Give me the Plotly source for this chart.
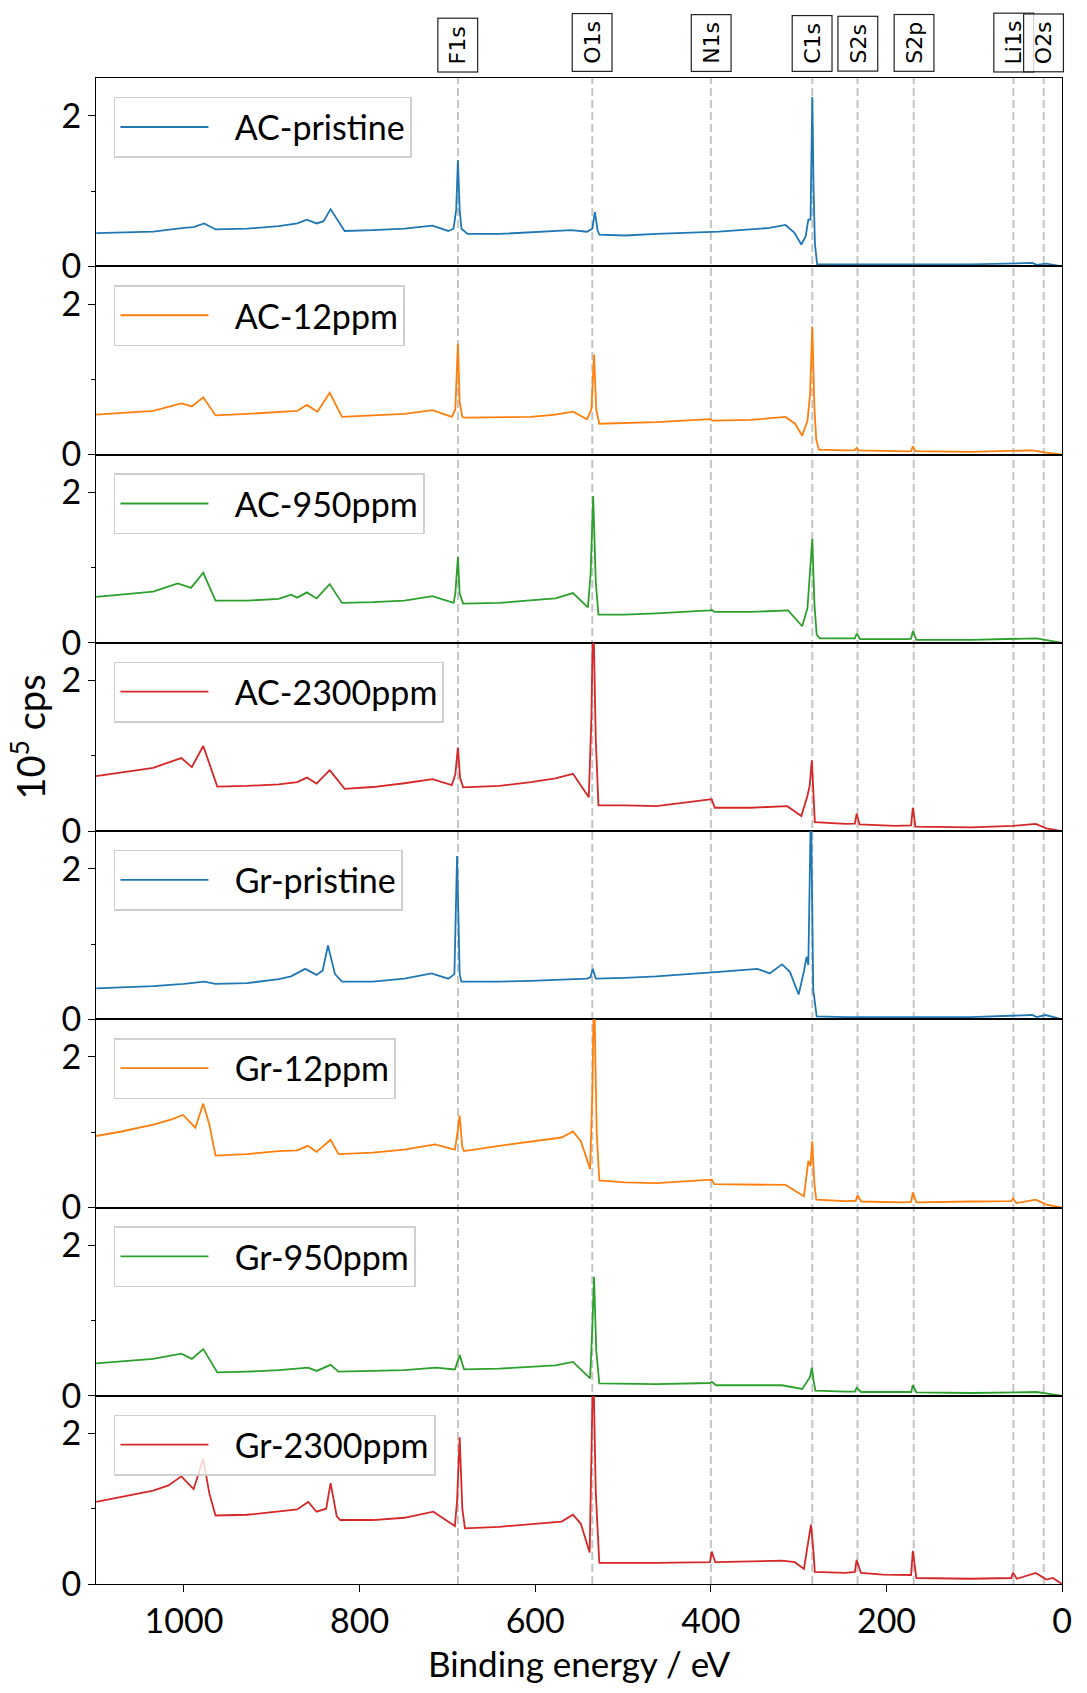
import plotly.graph_objects as go

# ---------------- data ----------------
NAMES = ["AC-pristine", "AC-12ppm", "AC-950ppm", "AC-2300ppm",
         "Gr-pristine", "Gr-12ppm", "Gr-950ppm", "Gr-2300ppm"]
COLORS = ["#1f77b4", "#ff7f0e", "#2ca02c", "#d62728",
          "#1f77b4", "#ff7f0e", "#2ca02c", "#d62728"]

BE_AC_PRISTINE = [1100, 1035, 1000, 989, 977, 964, 928, 892, 871, 860, 849, 841, 833, 817, 785, 749, 717, 699, 693, 690, 688, 686, 684, 677, 641, 605, 559, 541, 535, 532, 529, 527, 498, 462, 391, 333, 315, 305, 297, 292, 289, 286.5, 284.5, 283, 281.5, 279, 247, 176, 104, 34, 29, 18, 0]
CPS_AC_PRISTINE = [0.44, 0.46, 0.51, 0.52, 0.57, 0.49, 0.50, 0.535, 0.57, 0.62, 0.57, 0.60, 0.76, 0.47, 0.48, 0.50, 0.54, 0.47, 0.50, 0.75, 1.41, 0.75, 0.50, 0.43, 0.43, 0.45, 0.48, 0.46, 0.50, 0.72, 0.48, 0.42, 0.41, 0.43, 0.46, 0.51, 0.55, 0.45, 0.29, 0.40, 0.62, 0.62, 2.25, 1.00, 0.30, 0.03, 0.026, 0.026, 0.026, 0.045, 0.02, 0.035, 0.0]

BE_AC_12 = [1100, 1035, 1003, 991, 978, 964, 928, 892, 871, 860, 848, 834, 820, 785, 749, 717, 695, 691, 688, 686, 683, 681, 641, 605, 577, 557, 541, 536, 533, 530.5, 527, 498, 462, 401, 398, 355, 315, 304, 296, 290, 287, 284.5, 282, 280, 277, 247, 236, 234, 231.5, 176, 172, 170, 167, 104, 34, 18, 0]
CPS_AC_12 = [0.53, 0.58, 0.68, 0.64, 0.76, 0.52, 0.54, 0.57, 0.58, 0.66, 0.57, 0.82, 0.50, 0.52, 0.54, 0.59, 0.50, 0.60, 1.47, 0.70, 0.50, 0.49, 0.49, 0.50, 0.53, 0.57, 0.47, 0.60, 1.33, 0.60, 0.41, 0.42, 0.43, 0.47, 0.45, 0.46, 0.50, 0.41, 0.25, 0.45, 0.80, 1.70, 0.60, 0.20, 0.066, 0.057, 0.06, 0.088, 0.055, 0.044, 0.045, 0.11, 0.045, 0.035, 0.057, 0.026, 0.0]

BE_AC_950 = [1100, 1035, 1007, 992, 978, 964, 928, 892, 878, 871, 860, 849, 834, 820, 785, 749, 717, 693, 691, 688, 686, 682, 641, 605, 577, 557, 540, 537, 534, 531, 528, 498, 462, 401, 399, 396, 355, 312, 296, 290, 287, 284.5, 282, 279.5, 276, 247, 236, 234, 230, 176, 172, 170, 166, 104, 56, 29, 0]
CPS_AC_950 = [0.61, 0.68, 0.79, 0.73, 0.93, 0.56, 0.56, 0.585, 0.64, 0.60, 0.67, 0.59, 0.78, 0.53, 0.54, 0.56, 0.62, 0.53, 0.65, 1.14, 0.65, 0.52, 0.53, 0.56, 0.59, 0.66, 0.47, 0.90, 1.95, 0.80, 0.375, 0.375, 0.39, 0.43, 0.44, 0.41, 0.41, 0.43, 0.22, 0.46, 0.90, 1.38, 0.50, 0.11, 0.06, 0.06, 0.06, 0.12, 0.05, 0.05, 0.055, 0.156, 0.04, 0.04, 0.05, 0.06, 0.0]

BE_AC_2300 = [1100, 1035, 1003, 991, 978, 962, 928, 892, 871, 860, 849, 834, 817, 785, 749, 717, 695, 691, 688, 685.5, 682, 641, 605, 577, 557, 539, 536, 534, 531, 528, 498, 462, 401, 399, 395.5, 355, 313, 297, 290, 287.5, 285, 283.5, 281.6, 247, 236, 234, 230.7, 190, 172, 170, 167, 104, 56, 30, 18, 0]
CPS_AC_2300 = [0.73, 0.84, 0.97, 0.85, 1.13, 0.59, 0.60, 0.62, 0.65, 0.71, 0.63, 0.81, 0.56, 0.585, 0.635, 0.69, 0.61, 0.75, 1.11, 0.70, 0.58, 0.60, 0.65, 0.70, 0.76, 0.45, 1.50, 3.00, 1.20, 0.34, 0.34, 0.33, 0.42, 0.42, 0.31, 0.31, 0.33, 0.20, 0.47, 0.60, 0.94, 0.60, 0.12, 0.095, 0.10, 0.23, 0.09, 0.07, 0.075, 0.31, 0.06, 0.05, 0.07, 0.095, 0.035, 0.0]

BE_GR_PRISTINE = [1100, 1035, 1000, 977, 964, 928, 892, 878, 862, 849, 842, 836, 828, 820, 785, 749, 718, 699, 692, 689, 686, 684, 641, 605, 541, 537, 534.5, 531, 498, 462, 391, 347, 333, 319, 310, 300, 294, 291, 289, 286, 283.5, 279.5, 247, 104, 34, 29, 19, 0]
CPS_GR_PRISTINE = [0.41, 0.44, 0.47, 0.50, 0.47, 0.48, 0.535, 0.57, 0.67, 0.59, 0.65, 0.98, 0.60, 0.50, 0.50, 0.54, 0.61, 0.54, 0.60, 2.17, 0.60, 0.50, 0.50, 0.51, 0.54, 0.56, 0.67, 0.54, 0.55, 0.57, 0.63, 0.67, 0.61, 0.73, 0.63, 0.33, 0.64, 0.83, 0.72, 2.90, 0.40, 0.04, 0.03, 0.03, 0.057, 0.03, 0.057, 0.0]

BE_GR_12 = [1100, 1071, 1035, 1014, 1001, 987, 978, 971, 964, 928, 892, 871, 859, 849, 833, 824, 785, 749, 714, 691.5, 689, 686, 683, 681, 641, 605, 570, 557, 548, 537.5, 535, 533, 530, 527, 498, 462, 401, 399, 396, 355, 315, 294, 289, 286.6, 284.5, 282, 280, 247, 235, 233, 228.6, 183, 172, 170, 166, 104, 58, 56, 52, 30, 18, 0]
CPS_GR_12 = [0.95, 1.01, 1.10, 1.17, 1.23, 1.06, 1.38, 1.10, 0.69, 0.71, 0.75, 0.76, 0.82, 0.74, 0.90, 0.71, 0.73, 0.77, 0.84, 0.77, 0.95, 1.22, 0.80, 0.75, 0.82, 0.88, 0.93, 1.01, 0.88, 0.51, 1.50, 3.00, 1.00, 0.36, 0.335, 0.325, 0.37, 0.37, 0.31, 0.30, 0.30, 0.15, 0.62, 0.55, 0.88, 0.30, 0.106, 0.085, 0.09, 0.16, 0.08, 0.07, 0.075, 0.20, 0.07, 0.08, 0.085, 0.12, 0.06, 0.106, 0.04, 0.0]

BE_GR_950 = [1100, 1035, 1003, 991, 978, 962, 928, 892, 858.5, 849, 833, 824, 785, 749, 713, 691.5, 686, 681, 641, 605, 577, 557, 537.5, 535, 533, 530.5, 527, 462, 408.5, 401, 399, 394, 319, 296, 287, 285, 283, 281, 247, 236, 234, 229, 176, 172, 170, 166, 104, 56, 29, 0]
CPS_GR_950 = [0.43, 0.49, 0.56, 0.49, 0.62, 0.31, 0.32, 0.34, 0.375, 0.33, 0.41, 0.32, 0.33, 0.34, 0.375, 0.35, 0.54, 0.35, 0.36, 0.39, 0.405, 0.45, 0.23, 0.90, 1.58, 0.60, 0.165, 0.155, 0.17, 0.17, 0.185, 0.14, 0.14, 0.09, 0.25, 0.375, 0.20, 0.068, 0.054, 0.055, 0.107, 0.05, 0.05, 0.05, 0.14, 0.045, 0.037, 0.05, 0.05, 0.0]

BE_GR_2300 = [1100, 1071, 1035, 1017.6, 1003, 989, 978, 971, 964, 928, 892, 871, 858.5, 849, 838, 833, 826, 822, 785, 749, 716, 691.5, 689, 686, 683, 680, 641, 605, 570, 557, 548, 538, 536, 534, 531, 527, 462, 401, 399, 395, 319, 304.5, 294, 290, 286, 283, 281.6, 247, 238.6, 236, 234, 229, 204, 186, 172, 170, 166, 104, 58, 56, 51.6, 30, 18, 10.7, 0]
CPS_GR_2300 = [1.09, 1.16, 1.24, 1.31, 1.43, 1.26, 1.66, 1.20, 0.91, 0.92, 0.97, 0.99, 1.09, 0.96, 1.00, 1.34, 0.90, 0.85, 0.85, 0.88, 0.96, 0.77, 1.10, 1.95, 1.00, 0.74, 0.76, 0.80, 0.83, 0.92, 0.80, 0.42, 1.50, 3.00, 1.20, 0.28, 0.28, 0.29, 0.43, 0.29, 0.31, 0.29, 0.20, 0.51, 0.79, 0.40, 0.16, 0.147, 0.15, 0.16, 0.32, 0.147, 0.125, 0.12, 0.12, 0.44, 0.08, 0.07, 0.08, 0.15, 0.07, 0.147, 0.06, 0.08, 0.0]

BE_SERIES = [BE_AC_PRISTINE, BE_AC_12, BE_AC_950, BE_AC_2300,
             BE_GR_PRISTINE, BE_GR_12, BE_GR_950, BE_GR_2300]
CPS_SERIES = [CPS_AC_PRISTINE, CPS_AC_12, CPS_AC_950, CPS_AC_2300,
              CPS_GR_PRISTINE, CPS_GR_12, CPS_GR_950, CPS_GR_2300]

PEAK_LABELS = ["F1s", "O1s", "N1s", "C1s", "S2s", "S2p", "Li1s", "O2s"]
PEAK_BE = [688, 535, 400, 284.5, 233, 169, 55.5, 21]

X_TICKS = [0, 200, 400, 600, 800, 1000]
Y_TICKS = [0, 2]
Y_MINOR = [1]
X_RANGE = [1100, 0]
Y_RANGE = [0, 2.5]

# ---------------- layout geometry ----------------
W, H = 1087, 1693
LEFT, RIGHT = 97, 1072
TOP, BOTTOM = 79, 1602
N = len(NAMES)
PH = (BOTTOM - TOP) / N
FONT = "Lato, 'Open Sans', sans-serif"
AXCOL = "#000000"
GAP = "\u2002\u2009"   # visual gap between legend line sample and label

fig = go.Figure()
layout = dict(width=W, height=H, margin=dict(l=0, r=0, t=0, b=0),
              paper_bgcolor="white", plot_bgcolor="rgba(0,0,0,0)",
              showlegend=True)

for i in range(N):
    sfx = "" if i == 0 else str(i + 1)
    lg = "legend" if i == 0 else "legend" + str(i + 1)
    fig.add_trace(go.Scatter(
        x=BE_SERIES[i], y=CPS_SERIES[i], mode="lines", name=GAP + NAMES[i],
        line=dict(color=COLORS[i], width=1.8),
        xaxis="x" + sfx, yaxis="y" + sfx, legend=lg, showlegend=True))

    y_top = 1 - (TOP + PH * i) / H
    y_bot = 1 - (TOP + PH * (i + 1)) / H
    last = (i == N - 1)
    xa = dict(domain=[LEFT / W, RIGHT / W], range=X_RANGE, anchor="y" + sfx,
              showline=True, mirror=True, linecolor=AXCOL, linewidth=1.2,
              showgrid=False, zeroline=False,
              showticklabels=last, ticks="outside" if last else "",
              tickvals=X_TICKS, ticklen=7, tickwidth=1.3, tickcolor=AXCOL,
              tickfont=dict(family=FONT, size=34, color="black"))
    if i > 0:
        xa["matches"] = "x"
    if last:
        xa["title"] = dict(text="Binding energy / eV",
                           font=dict(family=FONT, size=35, color="black"),
                           standoff=13)
    ya = dict(domain=[y_bot, y_top], range=Y_RANGE, anchor="x" + sfx,
              showline=True, mirror=True, linecolor=AXCOL, linewidth=1.2,
              showgrid=False, zeroline=False,
              tickvals=Y_TICKS, ticks="outside", ticklen=7, tickwidth=1.3,
              tickcolor=AXCOL,
              tickfont=dict(family=FONT, size=34, color="black"),
              minor=dict(tickvals=Y_MINOR, ticks="outside", ticklen=4,
                         tickwidth=1.1, tickcolor=AXCOL, showgrid=False))
    if i == 3:
        ya["title"] = dict(text="10<sup>5</sup> cps",
                           font=dict(family=FONT, size=38, color="black"),
                           standoff=4)
    layout["xaxis" + sfx] = xa
    layout["yaxis" + sfx] = ya
    layout[lg] = dict(x=115 / W, xanchor="left",
                      y=1 - (TOP + PH * i + 19) / H, yanchor="top",
                      bgcolor="rgba(255,255,255,0.8)", bordercolor="#d0d0d0",
                      borderwidth=1.5, itemwidth=88,
                      font=dict(family=FONT, size=34, color="black"))

y_all_top = 1 - TOP / H
y_all_bot = 1 - BOTTOM / H
shapes = []
annotations = []
for lab, be in zip(PEAK_LABELS, PEAK_BE):
    shapes.append(dict(type="line", xref="x" + str(N), yref="paper",
                       x0=be, x1=be, y0=y_all_bot, y1=y_all_top,
                       line=dict(color="#c4c4c4", width=2, dash="8px,4px"),
                       layer="below"))
    annotations.append(dict(x=be, xref="x", y=y_all_top + 6 / H, yref="paper",
                            xanchor="center", yanchor="bottom",
                            text=lab, textangle=-90, showarrow=False,
                            font=dict(family="DejaVu Sans", size=22, color="black"),
                            bordercolor="#222222", borderwidth=1.2, borderpad=7,
                            bgcolor="rgba(255,255,255,0.8)"))
layout["shapes"] = shapes
layout["annotations"] = annotations
fig.update_layout(**layout)
fig.write_html("out.html")
